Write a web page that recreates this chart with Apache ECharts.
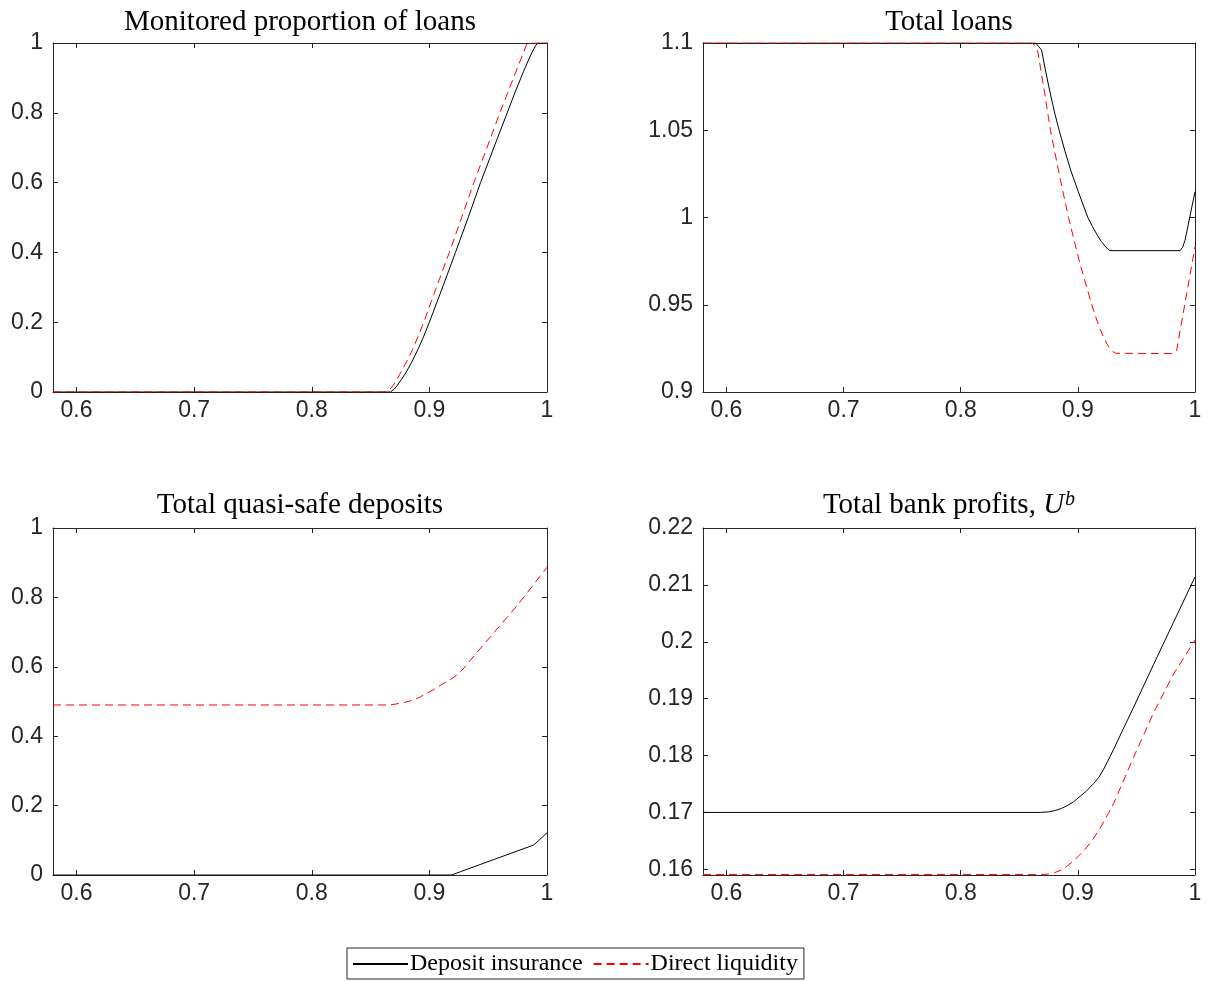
<!DOCTYPE html>
<html><head><meta charset="utf-8">
<script src="https://cdn.jsdelivr.net/npm/echarts@6/dist/echarts.min.js"></script>
<style>html,body{margin:0;padding:0;background:#fff}#c{width:1211px;height:981px}</style>
</head><body><div id="c"></div>
<script>
// ---- data ----
const xTicks = [0.6, 0.7, 0.8, 0.9, 1];
const yTicksUnit = [0, 0.2, 0.4, 0.6, 0.8, 1];
const yTicksLoans = [0.9, 0.95, 1, 1.05, 1.1];
const yTicksProfit = [0.16, 0.17, 0.18, 0.19, 0.2, 0.21, 0.22];

const titles = ['Monitored proportion of loans', 'Total loans', 'Total quasi-safe deposits', 'Total bank profits, '];
const seriesNames = ['Deposit insurance', 'Direct liquidity'];

// Monitored proportion of loans
const monX_DI = [0.58, 0.867, 0.870, 0.873, 0.876, 0.88, 0.885, 0.89, 0.895, 0.9, 0.911, 0.9222, 0.933, 0.9435, 0.955, 0.9662, 0.973, 0.98, 0.985, 0.988, 0.9905, 0.9918, 1.0];
const monY_DI = [0, 0, 0.008, 0.02, 0.035, 0.055, 0.086, 0.12, 0.158, 0.2, 0.298, 0.4, 0.5, 0.6, 0.702, 0.8, 0.86, 0.918, 0.957, 0.978, 0.993, 1.0, 1.0];
const monX_DL = [0.58, 0.8634, 0.8665, 0.8695, 0.8725, 0.8755, 0.8805, 0.8855, 0.8905, 0.8952, 0.906, 0.917, 0.9274, 0.9378, 0.949, 0.9599, 0.9715, 0.9832, 1.0];
const monY_DL = [0, 0, 0.008, 0.02, 0.036, 0.055, 0.086, 0.12, 0.16, 0.2, 0.3, 0.4, 0.5, 0.6, 0.7, 0.8, 0.9, 1.0, 1.0];

// Total loans
const loanX_DI = [0.58, 0.864, 0.869, 0.872, 0.876, 0.88, 0.884, 0.889, 0.8938, 0.9, 0.9085, 0.9125, 0.9165, 0.920, 0.9235, 0.9272, 0.9872, 0.9895, 0.9915, 1.0];
const loanY_DI = [1.1, 1.1, 1.096, 1.0855, 1.0725, 1.0605, 1.05, 1.038, 1.0273, 1.0155, 1.0, 0.9948, 0.990, 0.9863, 0.9833, 0.981, 0.981, 0.983, 0.987, 1.0148];
const loanX_DL = [0.58, 0.8607, 0.8635, 0.866, 0.8715, 0.8766, 0.8845, 0.892, 0.9009, 0.9065, 0.9119, 0.9155, 0.919, 0.9225, 0.926, 0.9295, 0.932, 0.9815, 0.983, 0.9844, 1.0];
const loanY_DL = [1.1, 1.1, 1.0985, 1.0943, 1.072, 1.05, 1.0235, 1.0, 0.976, 0.9625, 0.95, 0.9425, 0.936, 0.9305, 0.9262, 0.9235, 0.9222, 0.922, 0.9225, 0.924, 0.9833];

// Total quasi-safe deposits
const depX_DI = [0.58, 0.919, 0.9264, 0.9886, 0.9925, 1.0];
const depY_DI = [0, 0, 0.0095, 0.0863, 0.098, 0.1217];
const depX_DL = [0.58, 0.865, 0.8698, 0.877, 0.885, 0.891, 0.898, 0.904, 0.91, 0.917, 0.9236, 0.928, 0.9326, 0.9406, 0.9577, 0.9747, 1.0];
const depY_DL = [0.49, 0.49, 0.4917, 0.496, 0.503, 0.511, 0.524, 0.535, 0.548, 0.561, 0.577, 0.591, 0.6096, 0.642, 0.7095, 0.7766, 0.8867];

// Total bank profits
const profX_DI = [0.58, 0.868, 0.875, 0.88, 0.886, 0.891, 0.896, 0.9, 0.907, 0.9136, 0.918, 0.922, 0.926, 0.9303, 0.9476, 0.9646, 0.9816, 1.0];
const profY_DI = [0.17, 0.17, 0.1701, 0.1703, 0.1707, 0.1712, 0.1718, 0.1725, 0.1737, 0.1751, 0.1762, 0.1776, 0.1792, 0.181, 0.1885, 0.196, 0.2034, 0.2114];
const profX_DL = [0.58, 0.871, 0.876, 0.88, 0.886, 0.891, 0.896, 0.9, 0.907, 0.9136, 0.92, 0.926, 0.9306, 0.9476, 0.9646, 0.9816, 1.0];
const profY_DL = [0.1591, 0.1591, 0.1592, 0.1594, 0.1599, 0.1606, 0.1614, 0.1622, 0.1637, 0.1655, 0.1676, 0.1698, 0.1716, 0.1797, 0.1875, 0.1943, 0.2003];

// ---- layout ----
const grids = [
  {left: 53, top: 43, width: 494, height: 349},
  {left: 703, top: 43, width: 492, height: 349},
  {left: 53, top: 528, width: 494, height: 347},
  {left: 703, top: 528, width: 492, height: 347}
];
const yRanges = [[0, 1], [0.9, 1.1], [0, 1], [0.159, 0.22]];
const yTickSets = [yTicksUnit, yTicksLoans, yTicksUnit, yTicksProfit];
const panels = [
  [[monX_DI, monY_DI], [monX_DL, monY_DL]],
  [[loanX_DI, loanY_DI], [loanX_DL, loanY_DL]],
  [[depX_DI, depY_DI], [depX_DL, depY_DL]],
  [[profX_DI, profY_DI], [profX_DL, profY_DL]]
];

const AX = '#262626';
const fmt = v => String(+(+v).toFixed(3));
const zip = (a, b) => a.map((v, i) => [v, b[i]]);

const xAxis = [], yAxis = [], series = [], title = [];
grids.forEach((g, gi) => {
  ['bottom', 'top'].forEach((pos, k) => {
    xAxis.push({
      type: 'value', gridIndex: gi, position: pos, min: 0.58, max: 1,
      axisLine: {show: true, onZero: false, lineStyle: {color: AX, width: 1}},
      axisTick: {show: true, inside: true, length: 5, customValues: xTicks, lineStyle: {color: AX}},
      axisLabel: {show: k === 0, customValues: xTicks, margin: 7, fontSize: 23,
        fontFamily: 'Liberation Sans', color: AX, formatter: fmt},
      splitLine: {show: false}
    });
  });
  ['left', 'right'].forEach((pos, k) => {
    yAxis.push({
      type: 'value', gridIndex: gi, position: pos, min: yRanges[gi][0], max: yRanges[gi][1],
      axisLine: {show: true, onZero: false, lineStyle: {color: AX, width: 1}},
      axisTick: {show: true, inside: true, length: 5, customValues: yTickSets[gi], lineStyle: {color: AX}},
      axisLabel: {show: k === 0, customValues: yTickSets[gi], margin: 10, fontSize: 23,
        fontFamily: 'Liberation Sans', color: AX, formatter: fmt},
      splitLine: {show: false}
    });
  });
  panels[gi].forEach((d, si) => {
    series.push({
      type: 'line', name: seriesNames[si], xAxisIndex: 2 * gi, yAxisIndex: 2 * gi,
      data: zip(d[0], d[1]), symbol: 'none', showSymbol: false, smooth: false,
      lineStyle: si === 0 ? {color: '#000', width: 1, type: 'solid'} : {color: '#ff0000', width: 1, type: [8, 5]},
      itemStyle: {color: si === 0 ? '#000' : '#ff0000'},
      emphasis: {disabled: true}, animation: false, z: 2 + si
    });
  });
  const cx = g.left + g.width / 2;
  const serifStyle = {fontFamily: 'Liberation Serif', fontSize: 29, color: '#000', fontWeight: 'normal', lineHeight: 30};
  title.push({
    text: gi === 3 ? '{a|' + titles[3] + '}{u|U}{b|b}' : titles[gi],
    left: cx, textAlign: 'center', top: gi < 2 ? 7 : 490, padding: 0,
    textStyle: Object.assign({}, serifStyle, {
      rich: {
        a: serifStyle,
        u: Object.assign({}, serifStyle, {fontStyle: 'italic'}),
        b: {fontFamily: 'Liberation Serif', fontSize: 20, fontStyle: 'italic', color: '#000', verticalAlign: 'top', lineHeight: 30, padding: [0, 0, 0, 1]}
      }
    })
  });
});

const chart = echarts.init(document.getElementById('c'), null, {renderer: 'canvas'});
chart.setOption({
  animation: false,
  backgroundColor: '#fff',
  title: title,
  grid: grids.map(g => Object.assign({containLabel: false}, g)),
  xAxis: xAxis,
  yAxis: yAxis,
  legend: {
    data: seriesNames, left: 347, top: 948, orient: 'horizontal',
    itemWidth: 55, itemHeight: 14, itemGap: 10, padding: [4, 6, 3, 5],
    borderColor: AX, borderWidth: 1, backgroundColor: '#fff',
    itemStyle: {opacity: 0},
    textStyle: {fontFamily: 'Liberation Serif', fontSize: 24, color: '#000', padding: [0, 0, 0, -3]},
    selectedMode: false
  },
  series: series
});
</script></body></html>
